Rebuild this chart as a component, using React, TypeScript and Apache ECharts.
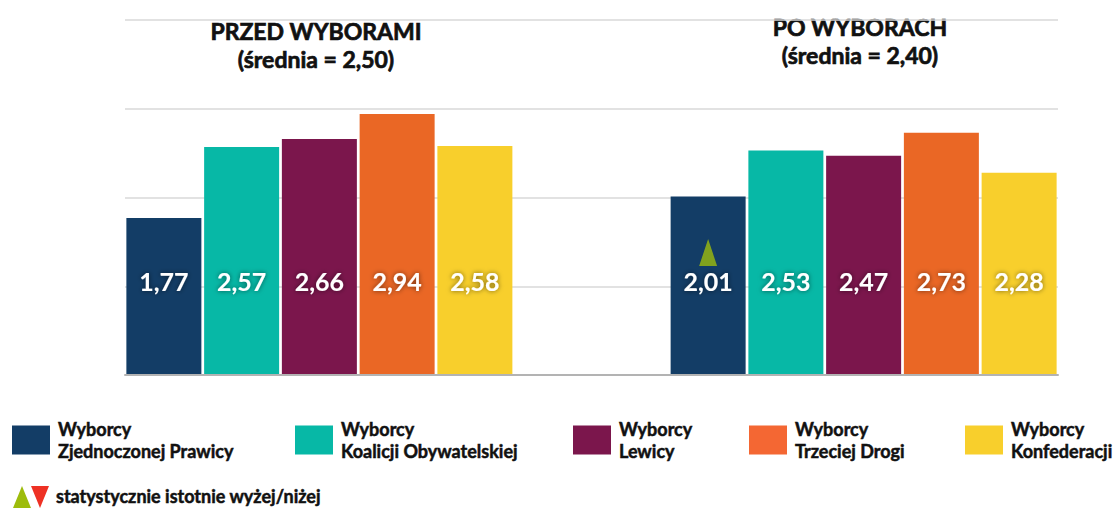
import React, { useEffect, useRef } from "react";
import * as echarts from "echarts";

const groups = ["PRZED WYBORAMI", "PO WYBORACH"];
const averages = ["2,50", "2,40"];
const seriesNames = [
  "Wyborcy Zjednoczonej Prawicy",
  "Wyborcy Koalicji Obywatelskiej",
  "Wyborcy Lewicy",
  "Wyborcy Trzeciej Drogi",
  "Wyborcy Konfederacji",
];
const before = [1.77, 2.57, 2.66, 2.94, 2.58];
const after = [2.01, 2.53, 2.47, 2.73, 2.28];
const colors = ["#133d66", "#07b8a6", "#7b164c", "#ea6725", "#f8cf2c"];
const legendColors = ["#133d66", "#07b8a6", "#7b164c", "#f46733", "#f8cf2c"];
// significance markers: [group index, series index, marker level]
const markers = [[1, 0, 1.38]];
const yTicks = [0, 1, 2, 3, 4];
const noteText = "statystycznie istotnie wyżej/niżej";

const FONT = "Lato, 'Open Sans', sans-serif";

// 12 slots: 5 bars, 2 empty, 5 bars
const slots: string[] = [];
seriesNames.forEach((_, i) => slots.push("przed-" + i));
slots.push("gap-1", "gap-2");
seriesNames.forEach((_, i) => slots.push("po-" + i));

export default function App() {
  const ref = useRef<HTMLDivElement>(null);
  useEffect(() => {
    if (!ref.current) return;
    const chart = echarts.init(ref.current, null, { renderer: "svg" });

    const barSeries = seriesNames.map((name, i) => {
      const data: (number | string)[] = slots.map(() => "-");
      data[i] = before[i];
      data[7 + i] = after[i];
      return {
        type: "bar",
        name,
        data,
        barWidth: 75,
        barGap: "-100%",
        itemStyle: { color: colors[i] },
        label: {
          show: true,
          position: "insideBottom",
          distance: 81,
          formatter: (p: any) => Number(p.value).toFixed(2).replace(".", ","),
          color: "#ffffff",
          fontFamily: FONT,
          fontWeight: "bold",
          fontSize: 25,
          lineHeight: 26,
          textShadowColor: "rgba(0,0,0,0.55)",
          textShadowBlur: 5,
        },
      };
    });

    const markerSeries = {
      type: "scatter",
      name: "istotność",
      symbol: "triangle",
      symbolSize: [18, 27],
      itemStyle: { color: "#9dbc0c" },
      z: 5,
      data: markers.map((m) => [m[0] * 7 + m[1], m[2]]),
    };

    const legendX = [12, 295, 573, 749, 965];
    const legends = seriesNames.map((name, i) => ({
      data: [{ name, itemStyle: { color: legendColors[i] } }],
      left: legendX[i],
      top: 418,
      orient: "horizontal",
      itemWidth: 38,
      itemHeight: 29,
      itemGap: 0,
      padding: 0,
      selectedMode: false,
      icon: "rect",
      formatter: (n: string) => n.replace("Wyborcy ", "Wyborcy\n"),
      textStyle: {
        fontFamily: FONT,
        fontWeight: "bold",
        fontSize: 18,
        lineHeight: 22,
        color: "#111111",
        textBorderColor: "#111111",
        textBorderWidth: 0.5,
        padding: [0, 0, 0, 3],
      },
    }));

    const titleCenters = [316, 860];
    const titleY = [31, 27];
    const graphics: any[] = [];
    groups.forEach((g, i) => {
      [g, `(średnia = ${averages[i]})`].forEach((t, k) => {
        graphics.push({
          type: "text",
          x: titleCenters[i],
          y: titleY[i] + k * 28,
          style: {
            text: t,
            fill: "#111111",
            stroke: "#111111",
            lineWidth: 0.7,
            font: `bold 23px ${FONT}`,
            textAlign: "center",
            textVerticalAlign: "middle",
          },
        });
      });
    });
    graphics.push({
      type: "polygon",
      shape: { points: [[22, 486], [31, 508], [13, 508]] },
      style: { fill: "#9dbc0c" },
    });
    graphics.push({
      type: "polygon",
      shape: { points: [[31, 486], [49, 486], [40, 508]] },
      style: { fill: "#ee3124" },
    });
    graphics.push({
      type: "text",
      x: 56,
      y: 496,
      style: {
        text: noteText,
        fill: "#111111",
        stroke: "#111111",
        lineWidth: 0.5,
        font: `bold 18px ${FONT}`,
        textAlign: "left",
        textVerticalAlign: "middle",
      },
    });

    chart.setOption({
      animation: false,
      backgroundColor: "#ffffff",
      grid: { left: 125, width: 933, top: 20, height: 355 },
      xAxis: {
        type: "category",
        data: slots,
        axisLabel: { show: false },
        axisTick: { show: false },
        axisLine: { show: true, lineStyle: { color: "#b3b3b3", width: 2 } },
        z: 3,
      },
      yAxis: {
        type: "value",
        min: yTicks[0],
        max: yTicks[yTicks.length - 1],
        interval: 1,
        axisLabel: { show: false },
        axisLine: { show: false },
        axisTick: { show: false },
        splitLine: { lineStyle: { color: "#d9d9d9", width: 1.5 } },
      },
      legend: legends,
      series: [...barSeries, markerSeries],
      graphic: graphics,
    });
    return () => chart.dispose();
  }, []);
  return (
    <div
      ref={ref}
      style={{ position: "fixed", left: 0, top: 0, width: 1117, height: 509 }}
    />
  );
}
